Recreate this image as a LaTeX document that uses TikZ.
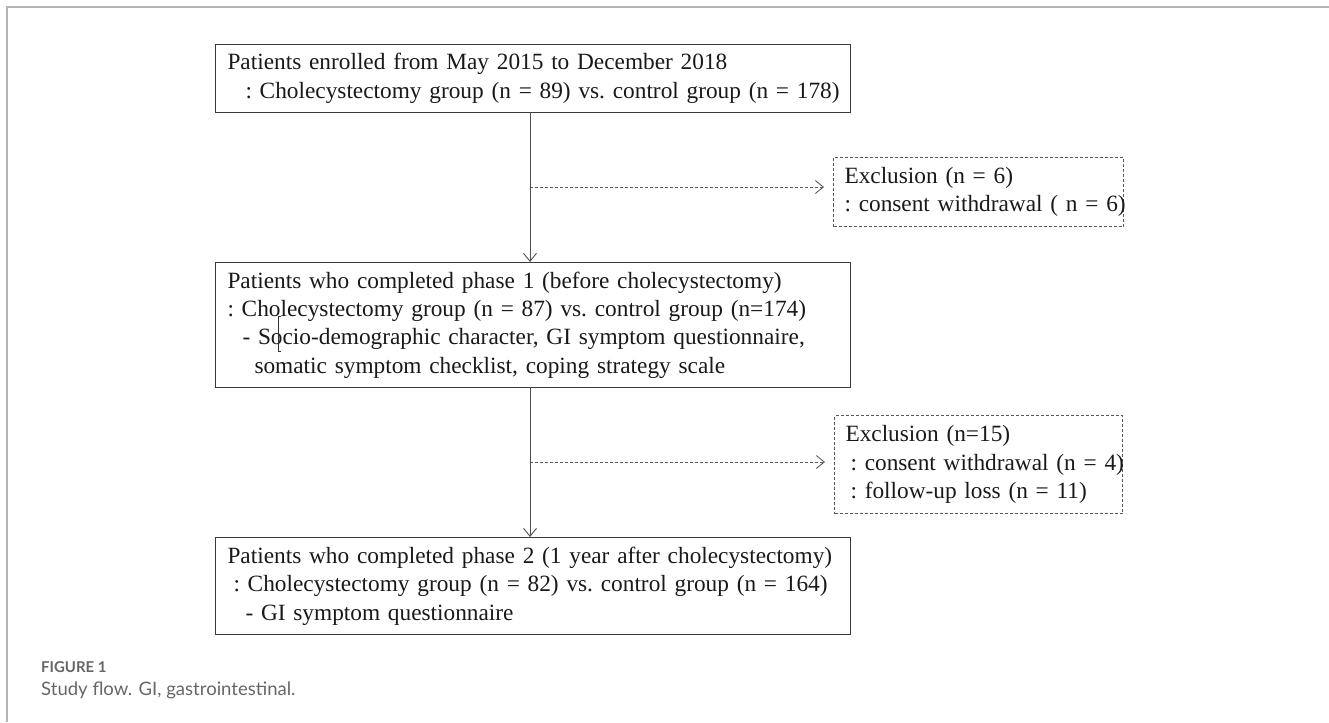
\documentclass[tikz,border=0pt]{standalone}
\usepackage{fontspec}
\setmainfont{Liberation Serif}
\newfontfamily\capfont{Lato}
\usetikzlibrary{arrows.meta}
\definecolor{framegray}{HTML}{B4B4B4}
\definecolor{boxgray}{HTML}{3A3A3A}
\definecolor{capgray}{HTML}{666666}
\tikzset{
  box/.style={draw=boxgray, line width=1bp, anchor=north west, align=left,
    inner xsep=12bp, inner ysep=0bp, text=black!90,
    font=\fontsize{23.4}{28.5}\selectfont\frenchspacing},
  exbox/.style={box, dash pattern=on 3bp off 2bp, draw=boxgray!85},
  flow/.style={draw=boxgray!90, line width=0.9bp, -{Straight Barb[length=8bp,width=13bp]}},
  exflow/.style={draw=boxgray!85, line width=0.9bp, dash pattern=on 3bp off 2bp,
    -{Straight Barb[length=8bp,width=13bp]}, shorten >=9bp},
}
\begin{document}
\begin{tikzpicture}[x=1bp,y=-1bp]
\useasboundingbox (0,0) rectangle (1329,722);
% frame
\draw[framegray, line width=1.6bp] (7,722) -- (7,7) -- (1329,7);

\node[box, minimum width=635bp, minimum height=68bp, text width=611bp, inner xsep=12bp] (b1) at (215,44)
 {\mbox{Patients enrolled from May 2015 to December 2018}\\
  \mbox{\hspace*{18bp}: Cholecystectomy group (n = 89) vs. control group (n = 178)}};

\node[exbox, minimum width=290bp, minimum height=69bp, text width=268bp, inner xsep=11bp] (e1) at (833,157)
 {\mbox{Exclusion (n = 6)}\\
  \mbox{: consent withdrawal ( n = 6)}};

\node[box, minimum width=635bp, minimum height=125bp, text width=611bp, inner xsep=12bp] (b2) at (215,262)
 {\mbox{Patients who completed phase 1 (before cholecystectomy)}\\
  \mbox{: Cholecystectomy group (n = 87) vs. control group (n=174)}\\
  \mbox{\hspace*{15bp}- Socio-demographic character, GI symptom questionnaire,}\\
  \mbox{\hspace*{27bp}somatic symptom checklist, coping strategy scale}};

\node[exbox, minimum width=288bp, minimum height=98bp, text width=266bp, inner xsep=11bp] (e2) at (834,415)
 {\mbox{Exclusion (n=15)}\\
  \mbox{\hspace*{5bp}: consent withdrawal (n = 4)}\\
  \mbox{\hspace*{5bp}: follow-up loss (n = 11)}};

\node[box, minimum width=635bp, minimum height=97bp, text width=611bp, inner xsep=12bp] (b3) at (215,537)
 {\mbox{Patients who completed phase 2 (1 year after cholecystectomy)}\\
  \mbox{\hspace*{6bp}: Cholecystectomy group (n = 82) vs. control group (n = 164)}\\
  \mbox{\hspace*{18bp}- GI symptom questionnaire}};

% connectors
\coordinate (t1) at (530,112);
\coordinate (j1) at (530,187);
\coordinate (t2) at (530,387);
\coordinate (j2) at (530,462);
\draw[flow] (t1) -- (t1 |- b2.north);
\draw[flow] (t2) -- (t2 |- b3.north);
\draw[exflow] (j1) -- (j1 -| e1.west);
\draw[exflow] (j2) -- (j2 -| e2.west);

% text cursor artefact
\draw[black!80, line width=0.9bp] (281,316) -- (278,316) -- (278,351) -- (281,351);

% caption
\node[anchor=west, inner sep=0pt, text=capgray, font=\capfont\bfseries\fontsize{15}{16}\selectfont] (cap1) at (41,667) {FIGURE 1};
\node[anchor=west, inner sep=0pt, text=capgray, font=\capfont\fontsize{18.6}{20}\selectfont] (cap2) at (41,690) {Study flow. GI, gastrointestinal.};
\end{tikzpicture}
\end{document}
